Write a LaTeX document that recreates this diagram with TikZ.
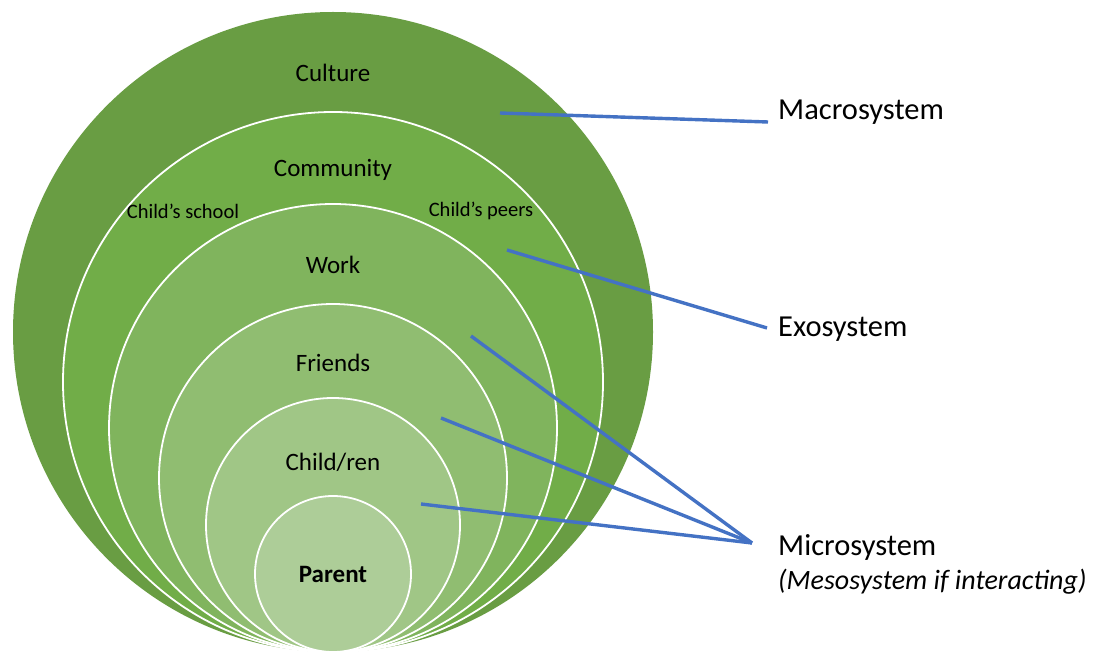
\documentclass[tikz,border=0pt]{standalone}
\usepackage{fontspec}
\setmainfont{Carlito}
\definecolor{ringA}{RGB}{105,157,67}
\definecolor{ringB}{RGB}{113,173,72}
\definecolor{ringC}{RGB}{128,180,93}
\definecolor{ringD}{RGB}{144,189,113}
\definecolor{ringE}{RGB}{160,198,134}
\definecolor{ringF}{RGB}{173,205,152}
\definecolor{linkblue}{RGB}{68,114,196}
\begin{document}
\begin{tikzpicture}[x=1pt,y=-1pt,
  ring/.style={circle,inner sep=0pt,draw=white,line width=1.8pt},
  ringtext/.style={font=\fontsize{25}{29}\selectfont,text=black},
  smalltext/.style={font=\fontsize{20.5}{24}\selectfont,text=black},
  syslabel/.style={anchor=west,inner sep=0pt,font=\fontsize{30.5}{36}\selectfont,text=black},
  link/.style={draw=linkblue,line width=3.4pt}]
\useasboundingbox (0,0) rectangle (1103,652);
\fill[white] (0,0) rectangle (1103,652);

% nested rings, all touching at the bottom
\node[ring,draw=none,fill=ringA,minimum size=640pt] (macro) at (333,332) {};
\node[ring,fill=ringB,minimum size=540pt] (community) at (333,382) {};
\node[ring,fill=ringC,minimum size=448pt] (work) at (333,428) {};
\node[ring,fill=ringD,minimum size=348pt] (friends) at (333,478) {};
\node[ring,fill=ringE,minimum size=254pt] (children) at (333,525) {};
\node[ring,fill=ringF,minimum size=156pt] (parent) at (333,574) {};

% ring captions
\node[ringtext] (tculture) at (333,73) {Culture};
\node[ringtext] (tcommunity) at (333,170) {Community};
\node[smalltext] (tschool) at (183,211) {Child’s school};
\node[smalltext] (tpeers) at (481,211) {Child’s peers};
\node[ringtext] (twork) at (333,265) {Work};
\node[ringtext] (tfriends) at (333,363) {Friends};
\node[ringtext] (tchildren) at (333,462) {Child/ren};
\node[ringtext,font=\fontsize{25}{29}\selectfont\bfseries] (tparent) at (333,574) {Parent};

% system labels
\node[syslabel] (lmacro) at (778,112) {Macrosystem};
\node[syslabel] (lexo) at (778,329) {Exosystem};
\node[syslabel] (lmicro) at (778,547) {Microsystem};
\node[syslabel,font=\fontsize{28}{33}\selectfont\itshape] (lmeso) at (778,582) {(Mesosystem if interacting)};

% connector ends
\coordinate (pmacro) at (500,113);
\coordinate (pexo) at (507,250);
\coordinate (pwork) at (471,336);
\coordinate (pfriends) at (441,418);
\coordinate (pchild) at (421,504);
\coordinate (emacro) at (768,122);
\coordinate (eexo) at (767,328);
\coordinate (emicro) at (752,543);

\draw[link] (pmacro) -- (emacro);
\draw[link] (pexo) -- (eexo);
\draw[link] (pwork) -- (emicro);
\draw[link] (pfriends) -- (emicro);
\draw[link] (pchild) -- (emicro);
\end{tikzpicture}
\end{document}
